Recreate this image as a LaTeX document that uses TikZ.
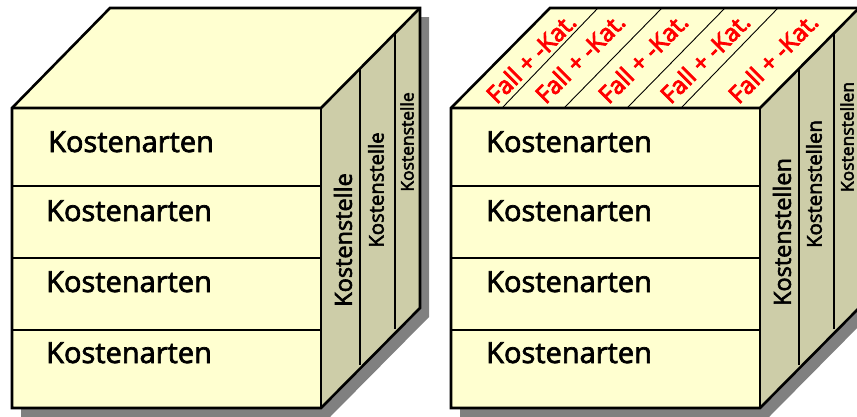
\documentclass[tikz,border=0pt]{standalone}
\usepackage{fontspec}
\setmainfont{Open Sans}
\newcommand\heavytext[2]{\special{pdf:literal direct 2 Tr #1 w}#2\special{pdf:literal direct 0 Tr}}
\definecolor{frontc}{RGB}{255,255,208}
\definecolor{sidec}{RGB}{205,205,168}
\definecolor{shadowc}{RGB}{128,128,128}
\definecolor{redc}{RGB}{255,0,0}
\tikzset{
  edge/.style={draw=black, line width=2.6pt, line join=miter},
  divider/.style={draw=black, line width=1.3pt},
  thinline/.style={draw=black, line width=0.9pt},
  art/.style={anchor=base west, inner sep=0pt, font=\fontsize{29}{30}\selectfont},
  stelle/.style={rotate=90, inner sep=0pt, font=\fontsize{#1}{#1}\selectfont},
  fall/.style={rotate=45, inner sep=0pt, text=redc, font=\fontsize{24}{24}\selectfont},
}
\begin{document}
\begin{tikzpicture}[x=1pt,y=-1pt]
\useasboundingbox (0,0) rectangle (857,416);
% ---------- left cube ----------
\fill[shadowc] (21,117) -- (119,17) -- (429,17) -- (429,317) -- (330,417) -- (21,417) -- cycle;
\fill[frontc] (12,108) rectangle (321,408);
\fill[frontc] (12,108) -- (110,8) -- (420,8) -- (321,108) -- cycle;
\fill[sidec] (321,108) -- (420,8) -- (420,308) -- (321,408) -- cycle;
\draw[divider] (12,186) -- (321,186);
\draw[divider] (12,258) -- (321,258);
\draw[divider] (12,330) -- (321,330);
\draw[divider] (360,68.6) -- (360,365);
\draw[divider] (395,33.3) -- (395,329);
\draw[edge] (12,108) -- (110,8) -- (420,8) -- (420,308) -- (321,408) -- (12,408) -- cycle;
\draw[edge] (12,108) -- (321,108) -- (420,8);
\draw[edge] (321,108) -- (321,408);
\node[art] (la1) at (48,152) {\heavytext{0.7}{Kostenarten}};
\node[art] (la2) at (46,221) {\heavytext{0.7}{Kostenarten}};
\node[art] (la3) at (46,292) {\heavytext{0.7}{Kostenarten}};
\node[art] (la4) at (46,363) {\heavytext{0.7}{Kostenarten}};
\node[stelle=23.5] (ls1) at (343,240) {\heavytext{0.6}{Kostenstelle}};
\node[stelle=20.3] (ls2) at (376,190) {\heavytext{0.55}{Kostenstelle}};
\node[stelle=17.5] (ls3) at (407,142) {\heavytext{0.5}{Kostenstelle}};
% ---------- right cube ----------
\fill[shadowc] (460,117) -- (559,17) -- (868,17) -- (868,317) -- (769,417) -- (460,417) -- cycle;
\fill[frontc] (451,108) rectangle (760,408);
\fill[frontc] (451,108) -- (550,8) -- (859,8) -- (760,108) -- cycle;
\fill[sidec] (760,108) -- (859,8) -- (859,308) -- (760,408) -- cycle;
\draw[divider] (451,186) -- (760,186);
\draw[divider] (451,258) -- (760,258);
\draw[divider] (451,330) -- (760,330);
\draw[divider] (799,68.6) -- (799,365);
\draw[divider] (834,33.3) -- (834,329);
\draw[thinline] (503,107) -- (598,8);
\draw[thinline] (565,107) -- (662,8);
\draw[thinline] (628,107) -- (725,8);
\draw[thinline] (682,107) -- (778,8);
\draw[edge] (451,108) -- (550,8) -- (859,8) -- (859,308) -- (760,408) -- (451,408) -- cycle;
\draw[edge] (451,108) -- (760,108) -- (859,8);
\draw[edge] (760,108) -- (760,408);
\node[art] (ra1) at (486,152) {\heavytext{0.7}{Kostenarten}};
\node[art] (ra2) at (486,221) {\heavytext{0.7}{Kostenarten}};
\node[art] (ra3) at (486,292) {\heavytext{0.7}{Kostenarten}};
\node[art] (ra4) at (486,363) {\heavytext{0.7}{Kostenarten}};
\node[stelle=23.5] (rs1) at (782,232) {\heavytext{0.6}{Kostenstellen}};
\node[stelle=20.3] (rs2) at (814,184) {\heavytext{0.55}{Kostenstellen}};
\node[stelle=17.5] (rs3) at (847,137) {\heavytext{0.5}{Kostenstellen}};
\node[fall] (f1) at (531,58) {\heavytext{0.9}{Fall + -Kat.}};
\node[fall] (f2) at (580,58) {\heavytext{0.9}{Fall + -Kat.}};
\node[fall] (f3) at (643,58) {\heavytext{0.9}{Fall + -Kat.}};
\node[fall] (f4) at (705,58) {\heavytext{0.9}{Fall + -Kat.}};
\node[fall] (f5) at (773,58) {\heavytext{0.9}{Fall + -Kat.}};
\end{tikzpicture}
\end{document}
